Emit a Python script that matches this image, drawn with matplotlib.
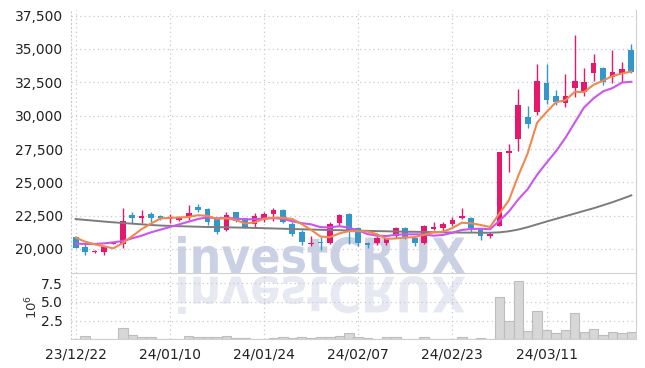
import numpy as np
import matplotlib
matplotlib.use('Agg')
import matplotlib.pyplot as plt
from matplotlib.textpath import TextPath
from matplotlib.patches import PathPatch
from matplotlib.font_manager import FontProperties
from matplotlib.transforms import Affine2D, IdentityTransform
from matplotlib.ticker import FuncFormatter

# daily OHLC (KRW), 60 trading days
opens = [20900, 20150, 19780, 19800, 20400, 20400, 22550, 22300, 22600, 22450,
         22250, 22200, 22375, 23150, 23000, 22250, 21400, 22750, 22300, 21900,
         22300, 22650, 22950, 21850, 21300, 20350, 20500, 20450, 21950, 22650,
         21550, 20450, 20450, 20450, 20950, 21600, 20800, 20450, 21500, 21550,
         21900, 22300, 22300, 21550, 20950, 21750, 27200, 28250, 29900, 30300,
         32450, 31450, 30950, 32100, 31800, 33200, 33600, 32900, 33150, 34900]
highs = [20950, 20400, 19920, 20200, 20550, 23050, 22800, 22900, 22800, 22550,
         22650, 22500, 23300, 23400, 23050, 22300, 22800, 22800, 22350, 22700,
         22750, 23100, 23000, 22050, 21400, 20950, 20900, 22000, 22650, 22700,
         21650, 20550, 20950, 20850, 21650, 21650, 20850, 21800, 22050, 22050,
         22400, 23100, 22400, 21600, 21300, 27250, 27900, 32000, 30750, 33900,
         33850, 31900, 33100, 36050, 33550, 34600, 33650, 34950, 34050, 35400]
lows = [20050, 19550, 19680, 19550, 20350, 20050, 21950, 21950, 22050, 22200,
        21950, 22100, 22175, 22800, 21800, 21150, 21350, 22000, 21550, 21650,
        22050, 22100, 21925, 21000, 20300, 20200, 19900, 20400, 21700, 20400,
        20250, 20050, 20300, 20300, 20800, 20750, 20250, 20400, 21400, 21350,
        21750, 22250, 21300, 20650, 20800, 21700, 25750, 27350, 29050, 30050,
        30900, 30800, 30650, 31400, 31500, 32600, 32300, 32450, 32550, 33200]
closes = [20100, 19750, 19820, 20170, 20450, 22100, 22300, 22450, 22300, 22300,
          22350, 22400, 22675, 22950, 22000, 21300, 22550, 22100, 21600, 22450,
          22650, 22950, 22050, 21150, 20550, 20450, 20450, 21850, 22550, 21400,
          20450, 20300, 20850, 20800, 21550, 20800, 20450, 21750, 21650, 21850,
          22150, 22450, 21550, 21000, 21100, 27250, 27350, 30800, 29400, 32600,
          31200, 31050, 31500, 32600, 32500, 33950, 32550, 33300, 33500, 33250]
# volume, millions of shares
volumes = [0.1, 0.4, 0.1, 0.1, 0.1, 1.47, 0.54, 0.3, 0.27, 0.1,
           0.1, 0.1, 0.4, 0.27, 0.27, 0.27, 0.4, 0.13, 0.13, 0.1,
           0.1, 0.13, 0.27, 0.13, 0.27, 0.13, 0.27, 0.27, 0.4, 0.9,
           0.27, 0.22, 0.05, 0.27, 0.27, 0.1, 0.1, 0.27, 0.1, 0.1,
           0.1, 0.35, 0.1, 0.2, 0.1, 5.66, 2.5, 7.8, 1.05, 3.77,
           1.27, 0.79, 1.27, 3.5, 0.92, 1.4, 0.53, 1.0, 0.79, 0.92]
# moving averages as drawn on the chart
ma_short = [20850, 20550, 20350, 20200, 20050, 20450, 20960, 21490, 21910, 22290,
            22340, 22360, 22400, 22540, 22480, 22270, 22300, 22180, 21910, 22000,
            22270, 22350, 22340, 22250, 21870, 21430, 20930, 20890, 21170, 21340,
            21340, 21310, 21110, 20760, 20790, 20860, 20890, 21070, 21240, 21300,
            21570, 21970, 21930, 21800, 21650, 22670, 23650, 25500, 27180, 29480,
            30270, 31010, 31150, 31790, 31770, 32320, 32620, 32980, 33160, 33310]
ma_mid = [20400, 20380, 20380, 20420, 20500, 20600, 20800, 21000, 21250, 21450,
          21650, 21850, 22050, 22250, 22380, 22300, 22330, 22290, 22220, 22240,
          22270, 22320, 22260, 22080, 21940, 21850, 21640, 21620, 21710, 21600,
          21390, 21120, 21000, 20970, 21070, 21100, 21100, 21090, 21000, 21050,
          21220, 21430, 21500, 21520, 21480, 22120, 22810, 23720, 24490, 25570,
          26470, 27330, 28330, 29490, 30630, 31300, 31820, 32070, 32480, 32540]
ma_long = [22250, 22180, 22120, 22060, 22000, 21950, 21900, 21850, 21800, 21760,
           21730, 21710, 21690, 21670, 21650, 21640, 21630, 21610, 21600, 21580,
           21560, 21540, 21520, 21500, 21480, 21460, 21440, 21420, 21410, 21390,
           21380, 21360, 21340, 21330, 21310, 21300, 21290, 21280, 21260, 21250,
           21240, 21230, 21230, 21220, 21220, 21250, 21330, 21460, 21640, 21850,
           22060, 22260, 22460, 22660, 22860, 23060, 23280, 23510, 23760, 24020]
tick_pos = [0, 10, 20, 30, 40, 50]
tick_labels = ['23/12/22', '24/01/10', '24/01/24', '24/02/07', '24/02/23', '24/03/11']

UP = '#e5186b'
DOWN = '#3397c9'
GRID = '#c9c9d6'
SPINE = '#d0d0d0'

plt.rcParams['font.family'] = ['Liberation Sans Narrow', 'DejaVu Sans']

W, H = 645, 368
fig = plt.figure(figsize=(W / 100, H / 100), dpi=100)
ax = fig.add_axes([71 / W, 1 - 273 / H, (636 - 71) / W, (273 - 10) / H])
axv = fig.add_axes([71 / W, 1 - 339.3 / H, (636 - 71) / W, (339.3 - 274) / H], sharex=ax)
ax.set_facecolor('none')
axv.set_facecolor('none')

# watermark with its reflection
prop = FontProperties(family='DejaVu Sans', weight='bold')
tp = TextPath((0, 0), 'investCRUX', size=100, prop=prop)
ext = tp.get_extents()
x0, x1, ytop, ybase = 178, 465, 236, 274
sx = (x1 - x0) / ext.width
sy = (ybase - ytop) / ext.height
t_main = Affine2D().translate(-ext.x0, -ext.y0).scale(sx, sy).translate(x0, H - ybase)
t_refl = Affine2D().translate(-ext.x0, -ext.y0).scale(sx, -sy).translate(x0, H - 276)
fig.add_artist(PathPatch(t_main.transform_path(tp), facecolor='#cbd1e4', edgecolor='none',
                         transform=IdentityTransform(), zorder=-1))
fig.add_artist(PathPatch(t_refl.transform_path(tp), facecolor='#e6e9f1', edgecolor='none',
                         transform=IdentityTransform(), zorder=-1))

x = np.arange(len(closes))
o = np.array(opens)
c = np.array(closes)
up = c >= o
colors = np.where(up, UP, DOWN)
body_bottom = np.minimum(o, c)
body_h = np.maximum(np.abs(c - o), 70)

ax.vlines(x, lows, highs, colors=colors, linewidth=1.0, zorder=2)
ax.bar(x, body_h, bottom=body_bottom, width=0.6, color=colors, zorder=3)

ax.plot(x, ma_long, color='#7c7c7c', lw=1.4, zorder=4)
ax.plot(x, ma_mid, color='#cc55ee', lw=1.5, zorder=4)
ax.plot(x, ma_short, color='#f08850', lw=1.5, zorder=4)

axv.bar(x, volumes, width=1.0, color='#d7d7d7', edgecolor='#bdbdbd', linewidth=0.8, zorder=2)

ax.set_xlim(-0.5, len(closes) - 0.5)
ax.set_ylim(18200, 37925)
ax.set_yticks(np.arange(20000, 37501, 2500))
ax.yaxis.set_major_formatter(FuncFormatter(lambda v, p: f'{v:,.0f}'))
axv.set_ylim(0, 8.73)
axv.set_yticks([2.5, 5.0, 7.5])
axv.yaxis.set_major_formatter(FuncFormatter(lambda v, p: f'{v:.1f}'))
axv.set_xticks(tick_pos)
axv.set_xticklabels(tick_labels)
axv.set_ylabel(r'$10^6$', fontsize=9.5, color='#333333')
axv.yaxis.set_label_coords(-0.055, 0.5)
plt.setp(ax.get_xticklabels(), visible=False)

for a in (ax, axv):
    a.grid(True, color=GRID, linestyle=(0, (1, 2.5)), linewidth=0.9, zorder=0)
    a.set_axisbelow(True)
    a.tick_params(length=0, pad=6, labelsize=10, colors='#222222')
    a.spines['top'].set_visible(False)
    a.spines['left'].set_color(GRID)
    a.spines['left'].set_linestyle((0, (1, 2.5)))
    a.spines['right'].set_color(SPINE)
    a.spines['bottom'].set_color(SPINE)
axv.tick_params(axis='x', labelsize=10)

fig.savefig('out.png', dpi=100)
